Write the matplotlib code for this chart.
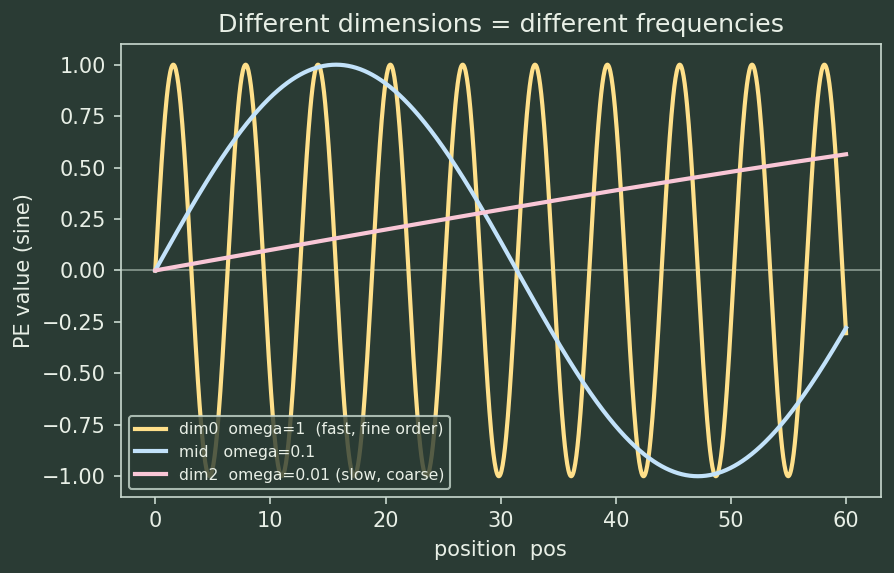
import numpy as np
import matplotlib
matplotlib.use("Agg")
import matplotlib.pyplot as plt

# data
omegas = [1.0, 0.1, 0.01]
labels = ["dim0  omega=1  (fast, fine order)", "mid   omega=0.1", "dim2  omega=0.01 (slow, coarse)"]
colors = ["#ffe08a", "#c2e2fa", "#f9c6d6"]
pos_max = 60
pos = np.linspace(0, pos_max, 1200)

BG = "#2a3b34"
FG = "#e8efe6"
SP = "#c9d9cf"

fig, ax = plt.subplots(figsize=(5.96, 3.82), dpi=150)
fig.patch.set_facecolor(BG)
ax.set_facecolor(BG)

ax.axhline(0, color=SP, lw=0.8, alpha=0.6, zorder=1)
for w, lab, c in zip(omegas, labels, colors):
    ax.plot(pos, np.sin(w * pos), color=c, lw=2.0, label=lab, zorder=2)

ax.set_title("Different dimensions = different frequencies", color=FG, fontsize=12.2)
ax.set_xlabel("position  pos", color=FG, fontsize=10)
ax.set_ylabel("PE value (sine)", color=FG, fontsize=10)
ax.set_yticks([-1, -0.75, -0.5, -0.25, 0, 0.25, 0.5, 0.75, 1.0])
ax.tick_params(colors=SP, labelcolor=FG, labelsize=10)
for s in ax.spines.values():
    s.set_color(SP)

leg = ax.legend(loc="lower left", fontsize=7.5, facecolor=BG, edgecolor=SP, framealpha=0.8)
for t in leg.get_texts():
    t.set_color(FG)

fig.subplots_adjust(left=0.135, right=0.985, top=0.923, bottom=0.133)
fig.savefig("out.png", dpi=150, facecolor=BG)
